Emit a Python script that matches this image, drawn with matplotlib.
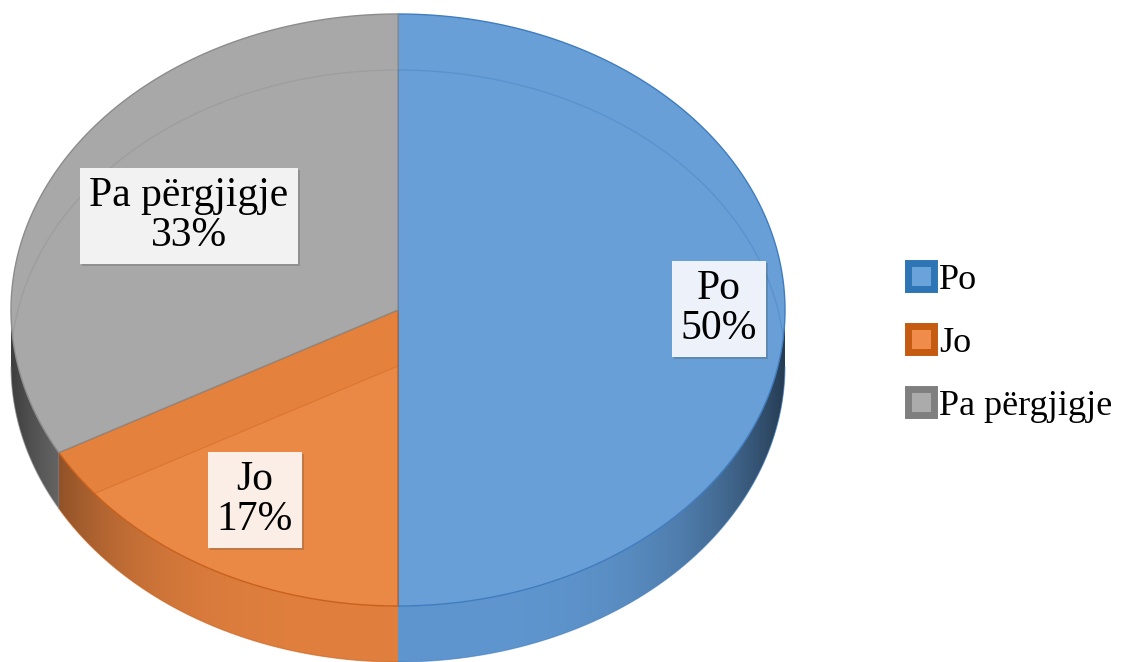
import numpy as np
import matplotlib.pyplot as plt
import matplotlib.patheffects as pe
from matplotlib.patches import Polygon, Patch
from matplotlib.colors import to_rgb

# data
labels = ['Po', 'Jo', 'Pa përgjigje']
values = [50, 17, 33]
top_colors = ['#689fd6', '#ea8945', '#a8a8a8']
edge_colors = ['#3f7cc0', '#c8601c', '#8c8c8c']
wall_colors = ['#5f96cf', '#e07f3e', '#9c9c9c']
box_colors = ['#edf2fa', '#faeee7', '#f2f2f2']
legend_inner = ['#6aa2da', '#ef8c4c', '#ababab']
legend_outer = ['#2e75b6', '#c55a11', '#7f7f7f']

W, H = 1130, 662
cx, cy = 398, 310     # centre of top face (pixels)
a, b = 387, 296       # ellipse radii
depth = 56            # thickness of the pie

fig = plt.figure(figsize=(W / 100, H / 100), dpi=100)
ax = fig.add_axes([0, 0, 1, 1])
ax.set_xlim(0, W)
ax.set_ylim(H, 0)
ax.axis('off')


def pt(theta, dz=0.0):
    return cx + a * np.cos(theta), cy - b * np.sin(theta) + dz


def sector(t1, t2, dz=0.0, n=200):
    ts = np.linspace(t1, t2, n)
    xs, ys = pt(ts, dz)
    return np.vstack([[cx, cy + dz], np.column_stack([xs, ys])])


# slice angles: start at 12 o'clock, go clockwise
total = sum(values)
bounds = [np.pi / 2]
for v in values:
    bounds.append(bounds[-1] - 2 * np.pi * v / total)

# front walls, shaded darker towards the sides
for i in range(len(values)):
    ts = np.linspace(bounds[i + 1], bounds[i], 400)
    ts = ts[np.sin(ts) <= 1e-9]
    if len(ts) < 2:
        continue
    xs, ys = pt(ts)
    wall = np.vstack([np.column_stack([xs, ys]),
                      np.column_stack([xs[::-1], ys[::-1] + depth])])
    wp = Polygon(wall, closed=True, facecolor='none', edgecolor='none')
    ax.add_patch(wp)
    gx = np.linspace(cx - a, cx + a, 800)
    c = np.clip((gx - cx) / a, -1, 1)
    shade = 1 - 0.6 * np.abs(c) ** 4
    img = np.array(to_rgb(wall_colors[i]))[None, None, :] * shade[None, :, None]
    im = ax.imshow(np.clip(img, 0, 1), extent=(cx - a, cx + a, cy + b + depth, cy - b),
                   aspect='auto', interpolation='bilinear', zorder=3)
    im.set_clip_path(wp)
    bx, by = pt(ts, depth)
    ax.plot(bx, by, color=edge_colors[i], lw=0.8, alpha=0.6, zorder=4)

ax.set_xlim(0, W)
ax.set_ylim(H, 0)

# top faces
tops = []
for i in range(len(values)):
    p = Polygon(sector(bounds[i + 1], bounds[i]), closed=True,
                facecolor=top_colors[i], edgecolor=edge_colors[i], lw=1.0, zorder=5)
    ax.add_patch(p)
    tops.append(p)

# things seen through the transparent top: bottom outline and darker cut faces
for i in range(len(values)):
    ts = np.linspace(bounds[i + 1], bounds[i], 200)
    xs, ys = pt(ts, depth)
    ln, = ax.plot(xs, ys, color=edge_colors[i], lw=1.0, alpha=0.35, zorder=5.5)
    ln.set_clip_path(tops[i])
    for t in (bounds[i], bounds[i + 1]):
        x0, y0 = pt(t)
        x1, y1 = pt(t, depth)
        shade = Polygon([(cx, cy), (x0, y0), (x1, y1), (cx, cy + depth)], closed=True,
                        facecolor=edge_colors[i], edgecolor='none', alpha=0.18, zorder=5.4)
        ax.add_patch(shade)
        shade.set_clip_path(tops[i])
        ln2, = ax.plot([cx, x1], [cy + depth, y1], color=edge_colors[i], lw=0.8,
                       alpha=0.4, zorder=5.5)
        ln2.set_clip_path(tops[i])

# data labels
label_pos = [(719, 309), (255, 500), (189, 216)]
for i, (lab, v) in enumerate(zip(labels, values)):
    x, y = label_pos[i]
    t = ax.text(x, y, f'{lab}\n{v}%', ha='center', va='center', fontsize=30,
                family='Liberation Serif', linespacing=1.05, zorder=7,
                bbox=dict(boxstyle='square,pad=0.22', facecolor=box_colors[i],
                          edgecolor='none'))
    t.get_bbox_patch().set_path_effects(
        [pe.SimplePatchShadow(offset=(1.5, -1.5), alpha=0.25), pe.Normal()])

# legend
handles = [Patch(facecolor=legend_inner[i], edgecolor=legend_outer[i], lw=5,
                 joinstyle='round') for i in range(len(labels))]
fig.legend(handles, labels, loc='center left',
           bbox_to_anchor=(908 / W, 1 - 343 / H), frameon=False,
           prop={'family': 'Liberation Serif', 'size': 26},
           handlelength=0.72, handleheight=0.72, handletextpad=0.15,
           labelspacing=0.82, borderpad=0, borderaxespad=0)

fig.savefig('out.png', dpi=100)
